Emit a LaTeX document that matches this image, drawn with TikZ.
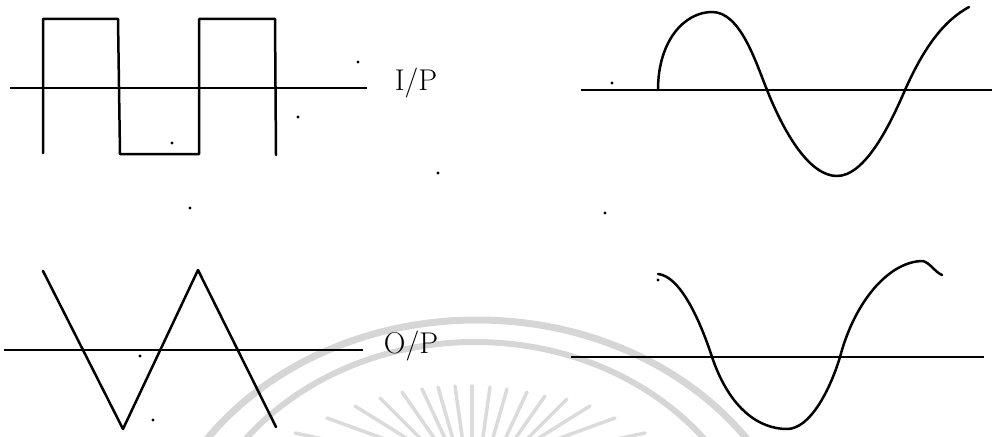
\documentclass[tikz,border=0pt]{standalone}
\begin{document}
\begin{tikzpicture}[x=1pt,y=-1pt,
  wave/.style={line width=2.5pt,line join=round,line cap=round},
  axisline/.style={line width=2.2pt},
  wm/.style={draw=black!16,line width=7pt},
  ray/.style={draw=black!14,line width=3.5pt,line cap=round},
  speck/.style={fill=black,inner sep=0pt,minimum size=3.2pt,circle},
  lbl/.style={font=\fontsize{30}{34}\selectfont}]
\useasboundingbox (0,0) rectangle (995,436);
\begin{scope}
\clip (0,0) rectangle (995,436);
% watermark
\draw[wm] (477,600) ellipse [x radius=330,y radius=280];
\draw[wm,line width=6pt] (475,592) ellipse [x radius=290,y radius=250];
\foreach \px/\py/\a in {295/433/12,327/418/20,355/406/32,380/398/45,402/392/55,422/389/65,438/387/74,455/386/82,472/386/90,
   490/387/98,507/389/106,527/392/115,545/396/125,567/399/135,590/406/148,615/418/160,645/433/168}
  \draw[ray] (\px,\py) -- ++(\a:90);
\end{scope}
% square wave (input)
\coordinate (a1s) at (10,88); \coordinate (a1e) at (367,88);
\draw[axisline] (a1s) -- (a1e);
\draw[wave] (43,153) -- (43,19) -- (118,19) -- (120,154) -- (199,154) -- (199,19) -- (275,19) -- (276,155);
\node[lbl] (ip) at (416,83) {I/P};
% top-right sine
\coordinate (a2s) at (581,90); \coordinate (a2e) at (992,90);
\draw[axisline] (a2s) -- (a2e);
\draw[wave] (658,90) .. controls (658,40) and (685,12) .. (712,12)
  .. controls (740,12) and (755,60) .. (767,90)
  .. controls (785,135) and (810,176) .. (837,176)
  .. controls (865,176) and (890,125) .. (905,90)
  .. controls (925,45) and (945,20) .. (969,7);
% triangle wave (output)
\coordinate (a3s) at (4,350); \coordinate (a3e) at (363,350);
\draw[axisline] (a3s) -- (a3e);
\draw[wave] (43,271) -- (123,429) -- (198,270) -- (276,427);
\node[lbl] (op) at (411,346) {O/P};
% bottom-right sine
\coordinate (a4s) at (571,357); \coordinate (a4e) at (984,357);
\draw[axisline] (a4s) -- (a4e);
\draw[wave] (658,274) .. controls (680,276) and (700,320) .. (712,357)
  .. controls (730,410) and (760,429) .. (787,429)
  .. controls (810,429) and (830,390) .. (840,357)
  .. controls (855,300) and (890,261) .. (923,261)
  .. controls (930,263) and (935,272) .. (942,275);
% specks
\foreach \sx/\sy [count=\i] in {358/62,298/117,172/143,438/173,190/208,612/83,605/213,140/356,153/420,658/280}
  \node[speck] (s\i) at (\sx,\sy) {};
\end{tikzpicture}
\end{document}
